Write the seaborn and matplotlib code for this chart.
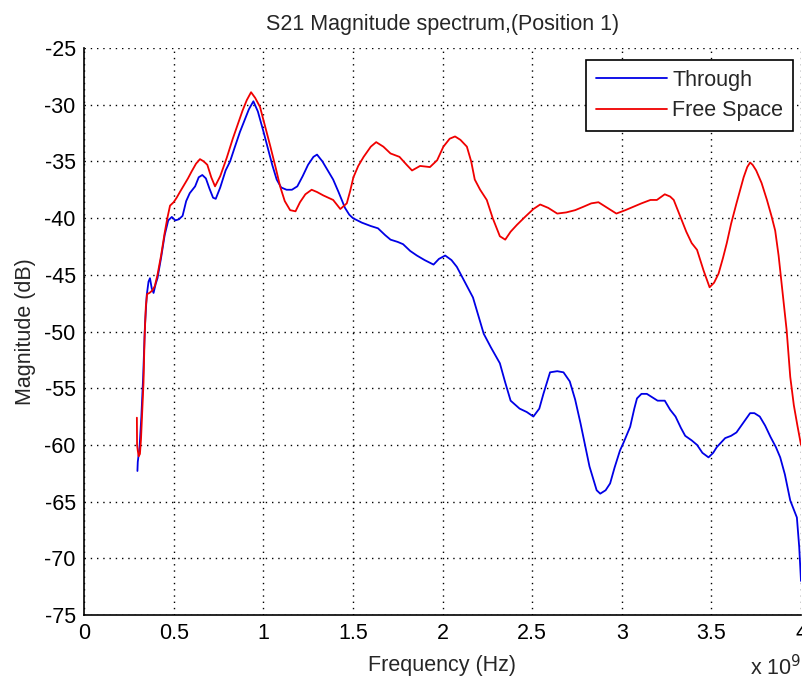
import numpy as np
import pandas as pd
import matplotlib
matplotlib.use("Agg")
import matplotlib.pyplot as plt
import seaborn as sns

# ---- data (frequency in GHz, magnitude in dB) ----
through_f = [0.298, 0.300, 0.310, 0.320, 0.330, 0.340, 0.350, 0.360, 0.368, 0.378, 0.388, 0.40, 0.41, 0.43, 0.45,
             0.47, 0.49, 0.51, 0.53, 0.55, 0.57, 0.59, 0.62, 0.64, 0.66, 0.68, 0.70, 0.72, 0.735, 0.76, 0.79, 0.815,
             0.84, 0.87, 0.89, 0.92, 0.945, 0.97, 1.00, 1.02, 1.05, 1.075, 1.10, 1.13, 1.16, 1.19, 1.22, 1.25, 1.28,
             1.30, 1.33, 1.36, 1.39, 1.42, 1.456, 1.48, 1.50, 1.55, 1.60, 1.64, 1.68, 1.71, 1.75, 1.78, 1.82, 1.857,
             1.90, 1.95, 1.98, 2.015, 2.05, 2.08, 2.12, 2.17, 2.20, 2.23, 2.27, 2.32, 2.35, 2.38, 2.43, 2.47, 2.507,
             2.54, 2.563, 2.60, 2.64, 2.675, 2.71, 2.74, 2.77, 2.82, 2.86, 2.88, 2.91, 2.935, 2.96, 2.99, 3.01, 3.047,
             3.07, 3.085, 3.11, 3.14, 3.17, 3.20, 3.24, 3.27, 3.30, 3.33, 3.354, 3.39, 3.42, 3.45, 3.484, 3.51, 3.53,
             3.577, 3.61, 3.64, 3.68, 3.716, 3.74, 3.77, 3.80, 3.83, 3.86, 3.884, 3.91, 3.94, 3.96, 3.977, 3.99, 4.0]
through_db = [-62.3, -61.5, -60.2, -57.5, -54.0, -49.5, -46.8, -45.6, -45.3, -46.2, -46.6, -45.8, -45.3, -43.5, -41.5,
              -40.2, -39.9, -40.2, -40.1, -39.8, -38.5, -37.8, -37.2, -36.4, -36.2, -36.5, -37.4, -38.2, -38.3, -37.3,
              -35.8, -35.0, -33.8, -32.4, -31.6, -30.4, -29.7, -30.6, -32.3, -33.5, -35.3, -36.6, -37.3, -37.5, -37.5,
              -37.2, -36.3, -35.3, -34.6, -34.4, -35.0, -35.8, -36.6, -37.7, -39.1, -39.7, -40.0, -40.4, -40.7, -40.9,
              -41.5, -41.9, -42.1, -42.3, -42.9, -43.3, -43.7, -44.1, -43.6, -43.3, -43.7, -44.3, -45.5, -47.0, -48.6,
              -50.2, -51.4, -52.8, -54.5, -56.1, -56.8, -57.1, -57.5, -56.8, -55.5, -53.6, -53.5, -53.6, -54.4, -56.0,
              -58.1, -61.9, -64.0, -64.3, -64.0, -63.4, -62.0, -60.5, -59.8, -58.4, -56.8, -55.9, -55.5, -55.5, -55.8,
              -56.1, -56.1, -56.9, -57.5, -58.5, -59.2, -59.6, -60.0, -60.7, -61.1, -60.7, -60.2, -59.4, -59.2, -58.9,
              -58.0, -57.2, -57.2, -57.5, -58.3, -59.3, -60.2, -61.1, -62.6, -64.9, -65.7, -66.4, -69.0, -72.0]

free_f = [0.295, 0.296, 0.300, 0.305, 0.312, 0.318, 0.325, 0.332, 0.338, 0.345, 0.352, 0.365, 0.38, 0.395, 0.41,
          0.43, 0.45, 0.465, 0.48, 0.50, 0.517, 0.535, 0.554, 0.58, 0.60, 0.625, 0.647, 0.668, 0.688, 0.71, 0.731,
          0.76, 0.796, 0.83, 0.861, 0.885, 0.908, 0.932, 0.955, 0.982, 1.01, 1.04, 1.07, 1.094, 1.12, 1.15, 1.18,
          1.205, 1.235, 1.27, 1.30, 1.335, 1.39, 1.43, 1.466, 1.485, 1.503, 1.53, 1.56, 1.60, 1.63, 1.67, 1.71,
          1.76, 1.80, 1.83, 1.875, 1.93, 1.97, 2.005, 2.04, 2.07, 2.10, 2.136, 2.16, 2.18, 2.21, 2.247, 2.28, 2.32,
          2.35, 2.38, 2.415, 2.46, 2.507, 2.545, 2.59, 2.64, 2.69, 2.74, 2.786, 2.83, 2.87, 2.92, 2.97, 3.02, 3.065,
          3.11, 3.16, 3.196, 3.24, 3.27, 3.29, 3.31, 3.335, 3.36, 3.39, 3.42, 3.456, 3.49, 3.515, 3.54, 3.565,
          3.586, 3.61, 3.64, 3.68, 3.70, 3.716, 3.73, 3.75, 3.78, 3.81, 3.835, 3.856, 3.875, 3.89, 3.905, 3.92,
          3.94, 3.96, 3.98, 4.0]
free_db = [-57.6, -60.0, -60.5, -61.0, -60.8, -59.5, -57.0, -54.5, -50.5, -47.8, -46.7, -46.6, -46.4, -46.0, -45.0,
           -43.3, -41.3, -40.0, -38.9, -38.6, -38.2, -37.7, -37.2, -36.5, -35.9, -35.2, -34.8, -35.0, -35.3, -36.4,
           -37.2, -36.3, -34.7, -33.0, -31.6, -30.5, -29.6, -28.9, -29.4, -30.2, -31.9, -33.7, -35.6, -37.2, -38.5,
           -39.3, -39.4, -38.6, -37.9, -37.5, -37.7, -38.0, -38.4, -39.2, -38.7, -37.6, -36.4, -35.4, -34.6, -33.7,
           -33.3, -33.7, -34.3, -34.6, -35.3, -35.8, -35.4, -35.5, -34.9, -33.7, -33.0, -32.8, -33.1, -33.7, -35.0,
           -36.6, -37.5, -38.4, -40.0, -41.6, -41.9, -41.2, -40.6, -39.9, -39.2, -38.8, -39.1, -39.6, -39.5, -39.3,
           -39.0, -38.7, -38.6, -39.1, -39.6, -39.3, -39.0, -38.7, -38.4, -38.4, -37.9, -38.1, -38.4, -39.2, -40.2,
           -41.2, -42.2, -42.8, -44.6, -46.1, -45.7, -44.9, -43.5, -42.2, -40.5, -38.7, -36.4, -35.5, -35.1, -35.3,
           -35.8, -36.9, -38.4, -39.8, -41.1, -43.3, -45.5, -47.7, -49.9, -54.0, -56.5, -58.3, -60.0]

series_names = ["Through", "Free Space"]
x_ticks = [0, 0.5, 1, 1.5, 2, 2.5, 3, 3.5, 4]
x_tick_labels = ["0", "0.5", "1", "1.5", "2", "2.5", "3", "3.5", "4"]
y_ticks = [-75, -70, -65, -60, -55, -50, -45, -40, -35, -30, -25]

df = pd.concat([
    pd.DataFrame({"Frequency": np.array(through_f) * 1e9, "Magnitude": through_db, "Series": series_names[0]}),
    pd.DataFrame({"Frequency": np.array(free_f) * 1e9, "Magnitude": free_db, "Series": series_names[1]}),
], ignore_index=True)

sns.set_style("white")
plt.rcParams["font.family"] = ["Liberation Sans", "DejaVu Sans"]
FS = 15.5

fig = plt.figure(figsize=(8.02, 6.82), dpi=100)
ax = fig.add_axes([84 / 802, 1 - 615 / 682, (801 - 84) / 802, (615 - 48) / 682])

sns.lineplot(data=df, x="Frequency", y="Magnitude", hue="Series", hue_order=series_names,
             palette={"Through": "#0000e6", "Free Space": "#f00000"},
             estimator=None, sort=False, linewidth=1.3, ax=ax)

ax.set_xlim(0, 4e9)
ax.set_ylim(-75, -25)
ax.set_xticks([t * 1e9 for t in x_ticks])
ax.set_xticklabels(x_tick_labels, fontsize=FS)
ax.set_yticks(y_ticks)
ax.set_yticklabels([str(v) for v in y_ticks], fontsize=FS)
ax.tick_params(direction="in", length=7, width=1, colors="black", pad=6)

ax.grid(True, color="black", linestyle=(0, (1, 3.5)), linewidth=1.0)
for s in ["top", "right"]:
    ax.spines[s].set_visible(False)
for s in ["left", "bottom"]:
    ax.spines[s].set_color("black")
    ax.spines[s].set_linewidth(1.2)

ax.set_title("S21 Magnitude spectrum,(Position 1)", fontsize=FS, pad=13)
ax.set_xlabel("Frequency (Hz)", fontsize=FS, labelpad=8)
ax.set_ylabel("Magnitude (dB)", fontsize=FS, labelpad=6)
fig.text(801 / 802, 1 - 668 / 682, "x 10$^9$", fontsize=FS, ha="right", va="center")

leg = ax.legend(loc="upper right", bbox_to_anchor=(793 / 802, 1 - 60 / 682), bbox_transform=fig.transFigure,
                fontsize=FS, frameon=True, fancybox=False, framealpha=1, edgecolor="black",
                handlelength=3.3, borderpad=0.45, labelspacing=0.45, handletextpad=0.25, borderaxespad=0)
leg.get_frame().set_linewidth(1.2)
for line in leg.get_lines():
    line.set_linewidth(1.3)

fig.savefig("out.png", dpi=100, facecolor="white")
